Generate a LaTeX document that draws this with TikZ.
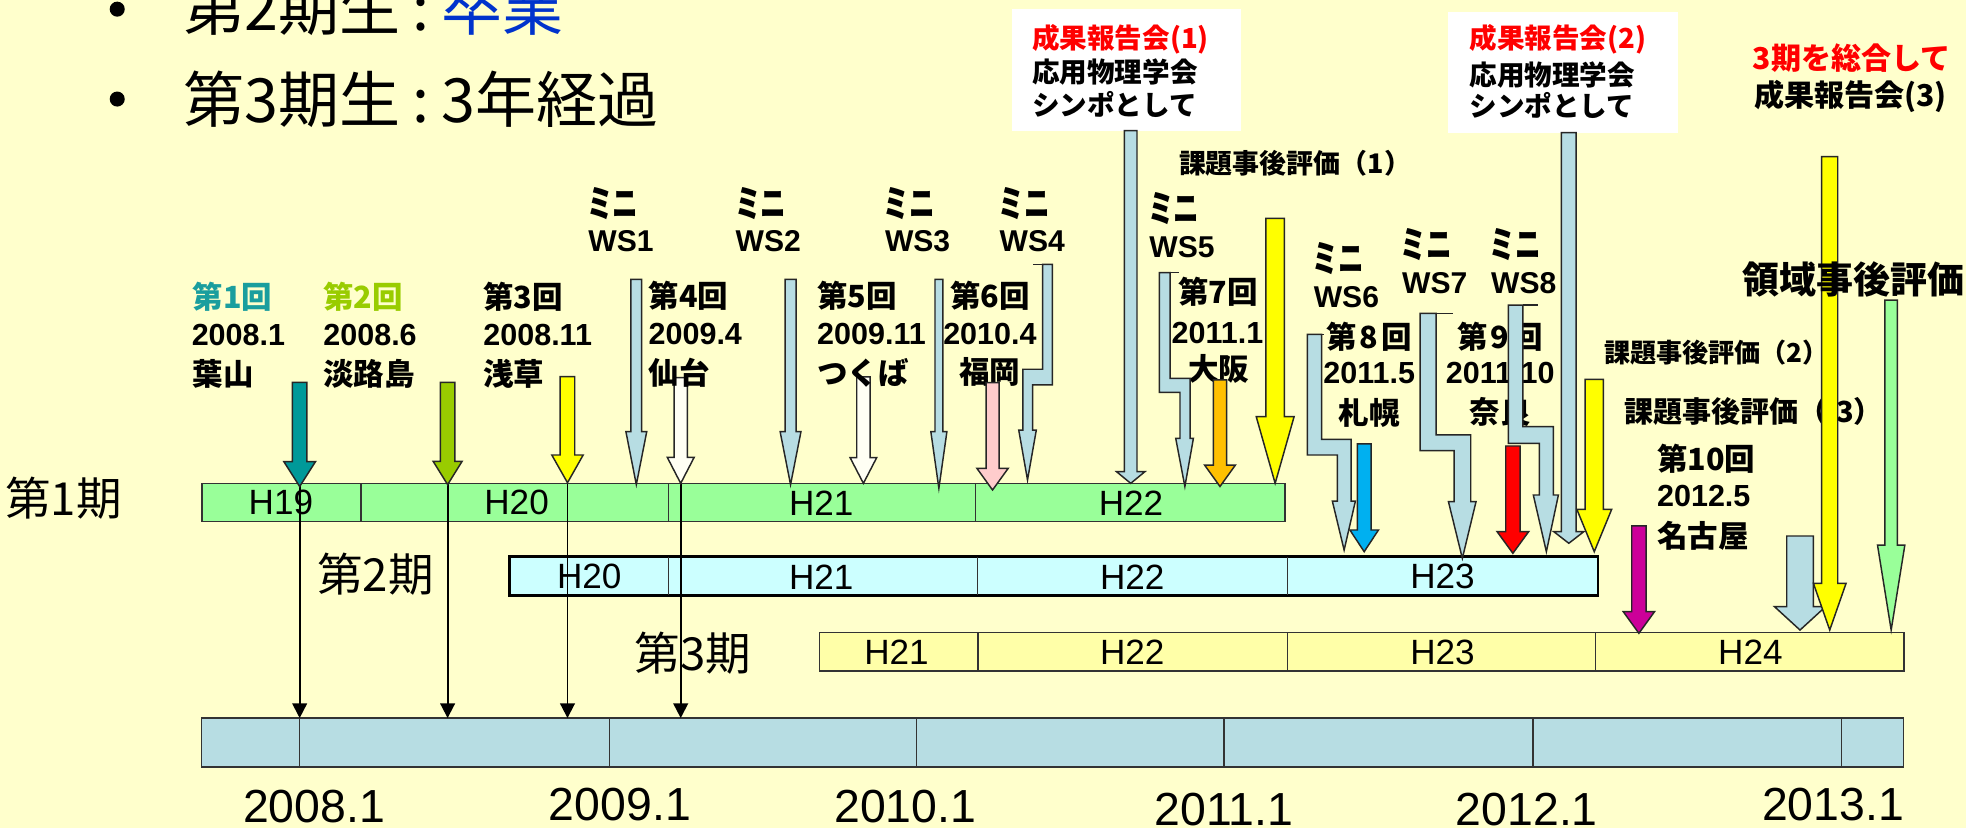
\documentclass[tikz,border=0pt]{standalone}
\usepackage{fontspec}
\usetikzlibrary{arrows.meta}
\newfontfamily\jp{Noto Sans CJK JP}
\newfontfamily\jpn[FakeStretch=0.68]{Noto Sans CJK JP}
\newfontfamily\ari{Liberation Sans}
\definecolor{bg}{HTML}{FFFFCC}
\definecolor{lb}{HTML}{B7DDE3}
\definecolor{tealc}{HTML}{009999}
\definecolor{tealt}{HTML}{1A9E9E}
\definecolor{ygreen}{HTML}{99CC00}
\definecolor{yel}{HTML}{FFFF00}
\definecolor{pinkc}{HTML}{FFCCCC}
\definecolor{orangec}{HTML}{FFC000}
\definecolor{bluec}{HTML}{00B0F0}
\definecolor{redc}{HTML}{FF0000}
\definecolor{magc}{HTML}{CC0099}
\definecolor{lgreen}{HTML}{99FF99}
\definecolor{row2c}{HTML}{CCFFFF}
\definecolor{row3c}{HTML}{FFFFA8}
\definecolor{wac}{HTML}{FFFFF4}
\definecolor{bluetxt}{HTML}{0033CC}
\newcommand{\barr}[7]{\filldraw[barrow, fill=#1] (#2-#3,#4) -- (#2+#3,#4) -- (#2+#3,#5) -- (#2+#6,#5) -- (#2,#7) -- (#2-#6,#5) -- (#2-#3,#5) -- cycle;}
\begin{document}
\begin{tikzpicture}[x=0.6pt,y=-0.6pt,
  barrow/.style={draw=black!85, line width=0.7pt, line join=miter},
  rowb/.style={draw=black!80, line width=0.7pt},
  thinarr/.style={draw=black, line width=0.9pt, -{Triangle[length=7pt,width=7pt]}},
  head/.style={font=\jp\fontsize{29.2pt}{32pt}\selectfont, inner sep=0pt, anchor=west},
  kilabel/.style={font=\jp\fontsize{21.8pt}{24pt}\selectfont, inner sep=0pt, anchor=west},
  hlab/.style={font=\ari\fontsize{16.8pt}{18pt}\selectfont, inner sep=0pt},
  ylab/.style={font=\ari\fontsize{22.2pt}{24pt}\selectfont, inner sep=0pt},
  jl/.style={font=\jp\bfseries\fontsize{14.6pt}{16pt}\selectfont, inner sep=0pt},
  al/.style={font=\ari\bfseries\fontsize{14.6pt}{16pt}\selectfont, inner sep=0pt},
  mini/.style={font=\jpn\bfseries\fontsize{18pt}{20pt}\selectfont, inner sep=0pt, anchor=west},
  ws/.style={font=\ari\bfseries\fontsize{14.4pt}{16pt}\selectfont, inner sep=0pt, anchor=west},
  boxt/.style={font=\jp\bfseries\fontsize{13.2pt}{15pt}\selectfont, inner sep=0pt, anchor=west},
  rt/.style={font=\jp\bfseries\fontsize{14.4pt}{16pt}\selectfont, inner sep=0pt, anchor=west},
  kadai/.style={font=\jp\bfseries\fontsize{12.9pt}{14pt}\selectfont, inner sep=0pt, anchor=west}
]
\path[use as bounding box, fill=bg] (0,0) rectangle (1568,660);

% ---------- heading ----------
\fill (93.5,7.3) circle[radius=6];
\fill (93.5,79) circle[radius=6];
\node[head] (hd1) at (146,6) {第2期生\hspace{0.2em}:\hspace{0.2em}\textcolor{bluetxt}{卒業}};
\node[head] (hd2) at (146,79) {第3期生\hspace{0.2em}:\hspace{0.2em}3年経過};

% ---------- rows ----------
\draw[rowb, fill=lgreen] (161,385.5) rectangle (1025,416);
\foreach \xx in {288,533,778} \draw[rowb] (\xx,385.5) -- (\xx,416);
\draw[draw=black, line width=1.4pt, fill=row2c] (406,444) rectangle (1274.5,474.6);
\foreach \xx in {533,779.4,1027} \draw[rowb] (\xx,444) -- (\xx,474.6);
\draw[rowb, fill=row3c] (653.6,504.5) rectangle (1518.5,535);
\foreach \xx in {780,1027,1272.4} \draw[rowb] (\xx,504.5) -- (\xx,535);
\draw[rowb, fill=lb] (160.7,572.7) rectangle (1518,611.7);
\foreach \xx in {239,486.3,731,976.3,1222.8,1468.8} \draw[rowb] (\xx,572.7) -- (\xx,611.7);

\node[hlab] (r1a) at (224,401) {H19};
\node[hlab] (r1b) at (412,401) {H20};
\node[hlab] (r1c) at (655,401) {H21};
\node[hlab] (r1d) at (902,401) {H22};
\node[hlab] (r2a) at (470,460) {H20};
\node[hlab] (r2b) at (655,460) {H21};
\node[hlab] (r2c) at (903,460) {H22};
\node[hlab] (r2d) at (1150.5,460) {H23};
\node[hlab] (r3a) at (715,520) {H21};
\node[hlab] (r3b) at (903,520) {H22};
\node[hlab] (r3c) at (1150.5,520) {H23};
\node[hlab] (r3d) at (1396,520) {H24};

\node[kilabel] (ki1) at (4,397) {第1期};
\node[kilabel] (ki2) at (252.8,458) {第2期};
\node[kilabel] (ki3) at (506,521) {第3期};

\node[ylab] (y08) at (250.5,643.3) {2008.1};
\node[ylab] (y09) at (494.4,641.4) {2009.1};
\node[ylab] (y10) at (722,643.3) {2010.1};
\node[ylab] (y11) at (976.3,645.4) {2011.1};
\node[ylab] (y12) at (1217.7,645.4) {2012.1};
\node[ylab] (y13) at (1462,641.4) {2013.1};

% ---------- thin arrows to the calendar bar ----------
\foreach \nm/\xx in {a/239,b/357,c/452.6,d/542.9}{
  \coordinate (t\nm) at (\xx,386);
  \coordinate (b\nm) at (\xx,572.7);
  \draw[thinarr] (t\nm) -- (b\nm);
}

% ---------- white arrows (under the text) ----------
\barr{wac}{542.9}{5.3}{301.2}{364.8}{10.7}{385.5}
\barr{wac}{688.6}{5.3}{300.5}{365}{10.6}{385.5}

% ---------- meeting labels ----------
\node[jl,anchor=west,text=tealt] (k1a) at (153.2,236.5) {第1回};
\node[al,anchor=west] (k1b) at (152.6,267) {2008.1};
\node[jl,anchor=west] (k1c) at (153.2,298) {葉山};
\node[jl,anchor=west,text=ygreen] (k2a) at (257.6,236.5) {第2回};
\node[al,anchor=west] (k2b) at (257.6,267) {2008.6};
\node[jl,anchor=west] (k2c) at (257.6,298) {淡路島};
\node[jl,anchor=west] (k3a) at (385.2,236.5) {第3回};
\node[al,anchor=west] (k3b) at (385.2,267) {2008.11};
\node[jl,anchor=west] (k3c) at (385.2,298) {浅草};
\node[jl,anchor=west] (k4a) at (517,236) {第4回};
\node[al,anchor=west] (k4b) at (517,266) {2009.4};
\node[jl,anchor=west] (k4c) at (517,297) {仙台};
\node[jl,anchor=west] (k5a) at (651.4,236) {第5回};
\node[al,anchor=west] (k5b) at (651.4,266) {2009.11};
\node[jl,anchor=west] (k5c) at (651.4,297) {つくば};
\node[jl] (k6a) at (789.5,236) {第6回};
\node[al] (k6b) at (789.5,266) {2010.4};
\node[jl] (k6c) at (789.5,297) {福岡};
\node[jl] (k7a) at (971.5,232.7) {第7回};
\node[al] (k7b) at (971,265.9) {2011.1};
\node[jl] (k7c) at (972,294.5) {大阪};
\node[jl] (k8a) at (1092,268.5) {第\hspace{0.1em}8\hspace{0.1em}回};
\node[al] (k8b) at (1092,297.8) {2011.5};
\node[jl] (k8c) at (1092,329.7) {札幌};
\node[jl] (k9a) at (1196.4,268.5) {第\hspace{0.1em}9\hspace{0.1em}回};
\node[al] (k9b) at (1196.5,297.8) {2011.10};
\node[jl] (k9c) at (1196.4,328.3) {奈良};
\node[jl,anchor=west] (k10a) at (1321.3,365.6) {第10回};
\node[al,anchor=west] (k10b) at (1321.3,395.5) {2012.5};
\node[jl,anchor=west] (k10c) at (1321.3,427.4) {名古屋};

% ---------- mini WS labels ----------
\node[mini] (m1) at (468,162) {ミニ};   \node[ws] (w1) at (469,192.7) {WS1};
\node[mini] (m2) at (586,162) {ミニ};   \node[ws] (w2) at (586.4,192.7) {WS2};
\node[mini] (m3) at (704.5,162) {ミニ}; \node[ws] (w3) at (705.5,192.7) {WS3};
\node[mini] (m4) at (796,162) {ミニ};   \node[ws] (w4) at (797,192.7) {WS4};
\node[mini] (m5) at (915.4,166.2) {ミニ}; \node[ws] (w5) at (916.4,196.8) {WS5};
\node[mini] (m6) at (1046.5,206) {ミニ}; \node[ws] (w6) at (1047.5,236.6) {WS6};
\node[mini] (m7) at (1117,194.8) {ミニ}; \node[ws] (w7) at (1118,226) {WS7};
\node[mini] (m8) at (1188,194.8) {ミニ}; \node[ws] (w8) at (1189,226) {WS8};

% ---------- report boxes ----------
\fill[white] (807.3,7.4) rectangle (989.8,104.2);
\node[boxt,text=redc] (b1a) at (822.8,31.2) {成果報告会(1)};
\node[boxt] (b1b) at (822.8,57.8) {応用物理学会};
\node[boxt] (b1c) at (822.8,83) {シンポとして};
\fill[white] (1154.7,9.3) rectangle (1338.4,105.8);
\node[boxt,text=redc] (b2a) at (1171.7,31.2) {成果報告会(2)};
\node[boxt] (b2b) at (1171.7,59.8) {応用物理学会};
\node[boxt] (b2c) at (1171.7,84.4) {シンポとして};
\node[rt,text=redc] (r3a) at (1397.7,46.5) {3期を総合して};
\node[rt] (r3b) at (1398.7,77.1) {成果報告会(3)};

\node[kadai] (kd1) at (940,130.3) {課題事後評価（1）};
\node[kadai,font=\jp\bfseries\fontsize{12.5pt}{14pt}\selectfont] (kd2) at (1279,281) {課題事後評価（2）};
\node[kadai,font=\jp\bfseries\fontsize{13.9pt}{16pt}\selectfont] (kd3) at (1295,328.3) {課題事後評価（\hspace{0.3em}3）};

% ---------- block arrows ----------
\barr{tealc}{239}{5.8}{305}{368.2}{12.6}{388}
\barr{ygreen}{357}{5.7}{305}{368}{11.5}{386.5}
\barr{yel}{452.6}{5.8}{300.4}{362.9}{12.5}{385}
\barr{lb}{507.5}{4.3}{222.8}{344.3}{8.3}{386.5}
\barr{lb}{630.5}{4.4}{222.8}{344.3}{8.3}{386.5}
\barr{lb}{748.8}{3.1}{222.8}{344.3}{6.4}{389.5}
\barr{pinkc}{791.6}{5.2}{305.2}{373.5}{12.5}{390.8}
\barr{lb}{901.8}{5.0}{104.2}{376.2}{11.3}{385.5}
\barr{orangec}{973}{5.3}{303}{370.9}{12.3}{388}
\barr{yel}{1017}{7.4}{174.1}{332.3}{15.1}{385.5}
\barr{bluec}{1088}{5.45}{354.1}{422.7}{11.4}{440}
\barr{redc}{1206.6}{5.7}{355.7}{424}{12.6}{441.3}
\barr{lb}{1251.2}{5.9}{105.8}{424}{12}{433.3}
\barr{yel}{1271.5}{7.3}{302.5}{406.2}{13.9}{440}
\barr{magc}{1307.1}{5.7}{419.5}{487.8}{12.5}{505.1}
\barr{lb}{1435.6}{10.6}{427.5}{483.9}{20.3}{502.5}
\barr{yel}{1459.3}{6.4}{125}{465.3}{13}{502.5}
\barr{lgreen}{1508.3}{5}{239.3}{434.7}{10.9}{502.5}

% ---------- bent mini-WS arrows ----------
\filldraw[barrow, fill=lb] (831.5,210.8) -- (839.4,210.8) -- (839.4,307) -- (823.5,307) -- (823.5,343) -- (826.5,343) -- (819.5,382.8) -- (812.5,343) -- (815.8,343) -- (815.8,294.5) -- (831.5,294.5) -- cycle;
\draw[barrow] (824.2,210.8) -- (831.5,210.8);
\filldraw[barrow, fill=lb] (924.7,217.5) -- (933.2,217.5) -- (933.2,301.7) -- (949.1,301.7) -- (949.1,349.6) -- (951.8,349.6) -- (945,388) -- (937.7,349.6) -- (941.1,349.6) -- (941.1,312.9) -- (924.7,312.9) -- cycle;
\draw[barrow] (933.2,217.5) -- (940.6,217.5);
\filldraw[barrow, fill=lb] (1042.7,266.7) -- (1054.1,266.7) -- (1054.1,350.4) -- (1077.5,350.4) -- (1077.5,399.6) -- (1081,399.6) -- (1072,438.7) -- (1062.6,399.6) -- (1066.6,399.6) -- (1066.6,362.9) -- (1042.7,362.9) -- cycle;
\draw[barrow] (1054.1,266.7) -- (1056,266.7);
\filldraw[barrow, fill=lb] (1132.6,249.9) -- (1145.3,249.9) -- (1145.3,346.9) -- (1173,346.9) -- (1173,400.1) -- (1177.2,400.1) -- (1166.3,445.3) -- (1155.2,400.1) -- (1159.7,400.1) -- (1159.7,359.4) -- (1132.6,359.4) -- cycle;
\draw[barrow] (1145.3,249.9) -- (1159.2,249.9);
\filldraw[barrow, fill=lb] (1203,243.3) -- (1214.5,243.3) -- (1214.5,340.3) -- (1238.9,340.3) -- (1238.9,394.8) -- (1242.9,394.8) -- (1233.3,440) -- (1222.9,394.8) -- (1227.7,394.8) -- (1227.7,353.6) -- (1203,353.6) -- cycle;
\draw[barrow] (1214.5,243.3) -- (1226.9,243.3);

% ---------- area evaluation label on top ----------
\node[rt,font=\jp\bfseries\fontsize{17.7pt}{20pt}\selectfont] (ry) at (1389.1,222.7) {領域事後評価};
\end{tikzpicture}
\end{document}
